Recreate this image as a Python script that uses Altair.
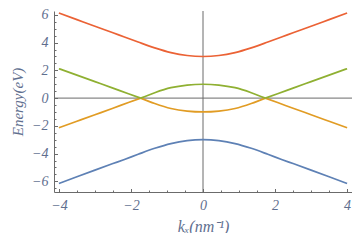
import altair as alt
import pandas as pd

# ---- data ----
k_outer = [-4, -3.5, -3, -2.5, -2.2, -1.8, -1.34, -0.89, -0.44, 0,
           0.44, 0.89, 1.34, 1.8, 2.2, 2.5, 3, 3.5, 4]
top_E = [6.14, 5.66, 5.18, 4.71, 4.42, 4.04, 3.62, 3.28, 3.07, 3.0,
         3.07, 3.28, 3.62, 4.04, 4.42, 4.71, 5.18, 5.66, 6.14]
bottom_E = [-6.16, -5.67, -5.19, -4.72, -4.44, -4.05, -3.62, -3.28, -3.07, -3.0,
            -3.07, -3.28, -3.62, -4.05, -4.44, -4.72, -5.19, -5.67, -6.16]

k_inner = [-4, -3.5, -3, -2.5, -2.07, -1.73, -1.34, -0.89, -0.44, 0,
           0.44, 0.89, 1.34, 1.73, 2.07, 2.5, 3, 3.5, 4]
green_E = [2.12, 1.66, 1.19, 0.72, 0.31, 0.0, 0.39, 0.75, 0.94, 1.0,
           0.94, 0.75, 0.39, 0.0, 0.31, 0.72, 1.19, 1.66, 2.12]
yellow_E = [-2.14, -1.67, -1.2, -0.73, -0.32, 0.0, -0.39, -0.75, -0.94, -1.0,
            -0.94, -0.75, -0.39, 0.0, -0.32, -0.73, -1.2, -1.67, -2.14]
crossing_k = 1.73

bands = ["b1", "b2", "b3", "b4"]
band_colors = ["#5E81B5", "#E19C24", "#8FB032", "#EB6235"]

y_major = [-6, -4, -2, 0, 2, 4, 6]
y_minor = [v / 2 for v in range(-13, 13) if v % 4 != 0]
x_major = [-4, -2, 0, 2, 4]
x_minor = [v / 2 for v in range(-8, 9) if v % 4 != 0]

x_domain = [-4.136, 4.136]
y_domain = [-6.77, 6.28]

# ---- build table ----
rows = []
for k, e in zip(k_outer, bottom_E):
    rows.append({"k": k, "E": e, "band": "b1", "seg": "b1"})
for k, e in zip(k_outer, top_E):
    rows.append({"k": k, "E": e, "band": "b4", "seg": "b4"})
for name, vals in (("b2", yellow_E), ("b3", green_E)):
    for k, e in zip(k_inner, vals):
        if k <= -crossing_k + 1e-9:
            rows.append({"k": k, "E": e, "band": name, "seg": name + "L"})
        if -crossing_k - 1e-9 <= k <= crossing_k + 1e-9:
            rows.append({"k": k, "E": e, "band": name, "seg": name + "C"})
        if k >= crossing_k - 1e-9:
            rows.append({"k": k, "E": e, "band": name, "seg": name + "R"})
df = pd.DataFrame(rows)

xs = alt.Scale(domain=x_domain, nice=False, zero=False)
ys = alt.Scale(domain=y_domain, nice=False, zero=False)

AX = "#6b6b6b"
LBL = "#5f6f8f"
FONT = "Liberation Serif"

main_x = alt.Axis(orient="bottom", values=x_major, ticks=False, tickSize=0, grid=False,
                  domainColor=AX, domainWidth=1, labelFont=FONT, labelFontStyle="italic",
                  labelFontSize=14, labelColor=LBL, labelPadding=6,
                  title="kₓ(nm⁻¹)", titleFont=FONT, titleFontStyle="italic",
                  titleFontWeight="normal", titleFontSize=16, titleColor=LBL, titlePadding=6)
main_y = alt.Axis(orient="left", values=y_major, ticks=False, tickSize=0, grid=False,
                  domainColor=AX, domainWidth=1, labelFont=FONT, labelFontStyle="italic",
                  labelFontSize=14, labelColor=LBL, labelPadding=6,
                  title="Energy(eV)", titleFont=FONT, titleFontStyle="italic",
                  titleFontWeight="normal", titleFontSize=15, titleColor=LBL, titlePadding=6)


def tick_axis(orient, vals, size):
    return alt.Axis(orient=orient, values=vals, domain=False, labels=False, grid=False,
                    ticks=True, tickSize=size, tickColor=AX, tickWidth=1, offset=-size, title="")


lines = alt.Chart(df).mark_line(strokeWidth=1.7, interpolate="monotone").encode(
    x=alt.X("k:Q", scale=xs, axis=main_x),
    y=alt.Y("E:Q", scale=ys, axis=main_y),
    color=alt.Color("band:N", scale=alt.Scale(domain=bands, range=band_colors), legend=None),
    detail="seg:N",
    order="k:Q",
)

major_ticks = alt.Chart(df).mark_point(opacity=0).encode(
    x=alt.X("k:Q", scale=xs, axis=tick_axis("bottom", x_major, 3.5)),
    y=alt.Y("E:Q", scale=ys, axis=tick_axis("left", y_major, 3.5)),
)
minor_ticks = alt.Chart(df).mark_point(opacity=0).encode(
    x=alt.X("k:Q", scale=xs, axis=tick_axis("bottom", x_minor, 2)),
    y=alt.Y("E:Q", scale=ys, axis=tick_axis("left", y_minor, 2)),
)

hline = alt.Chart(pd.DataFrame({"E": [0]})).mark_rule(color=AX, strokeWidth=1).encode(
    y=alt.Y("E:Q", scale=ys, axis=None)
)
vline = alt.Chart(pd.DataFrame({"k": [0]})).mark_rule(color=AX, strokeWidth=1).encode(
    x=alt.X("k:Q", scale=xs, axis=None)
)

chart = alt.layer(hline, vline, lines, major_ticks, minor_ticks).resolve_axis(
    x="independent", y="independent"
).properties(
    width=298, height=181,
    autosize=alt.AutoSizeParams(type="none"),
    padding={"left": 46, "top": 3, "right": 0, "bottom": 41},
).configure_view(stroke=None).configure_axis(
    labelFont=FONT, labelFontStyle="italic", labelFontSize=14, labelColor=LBL,
    titleFont=FONT, titleFontStyle="italic", titleFontWeight="normal", titleColor=LBL,
)

chart.save("out.html", embed_options={"renderer": "svg", "actions": False})
